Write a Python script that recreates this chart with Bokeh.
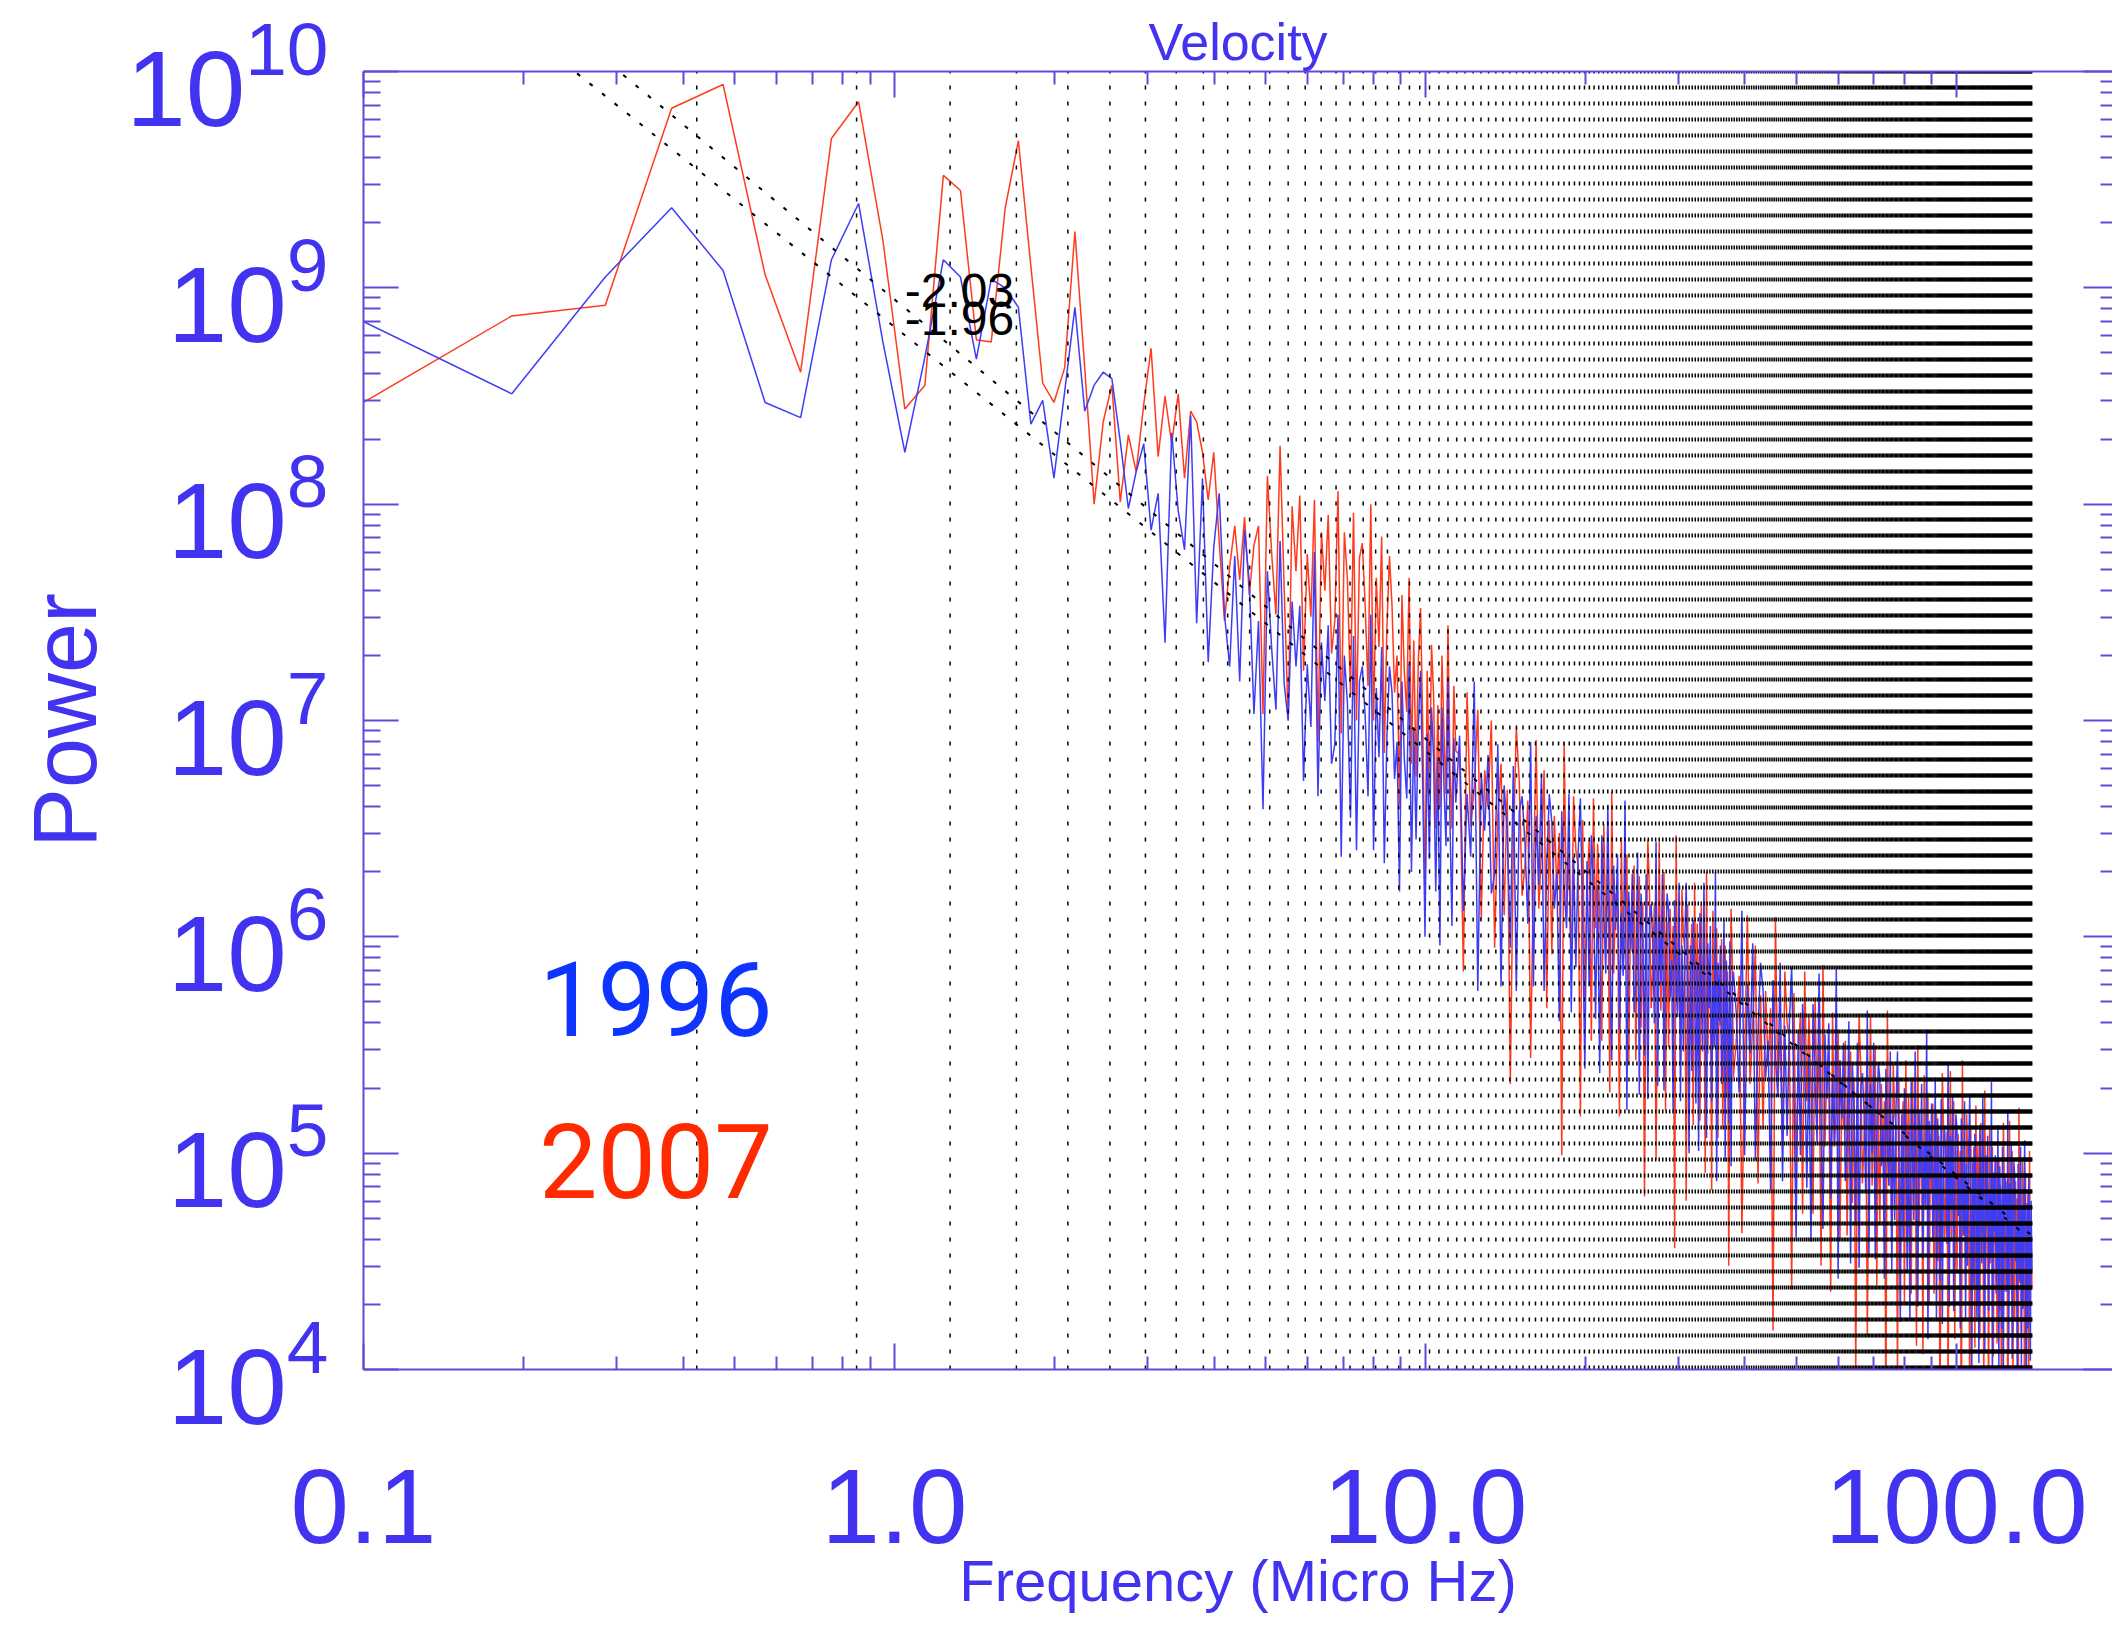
import math

from bokeh.plotting import figure
from bokeh.models import (Range1d, LogAxis, FixedTicker, Label, CustomJSTickFormatter,
                          LogTickFormatter)
from bokeh.embed import file_html
from bokeh.resources import INLINE

# ---------------------------------------------------------------------------
# Spectra of hourly solar-wind velocity, 1996 and 2007
# frequency resolution (micro-Hz) and the spectral bins that are kept
DF = 0.09513
bins_low = list(range(1, 121))
bins_mid = list(range(122, 401, 2))
bins_high = list(range(405, 1461, 5))

# log10(power) x 100, one value per kept bin
lp1996_low = [
    887, 851, 905, 937, 908, 847, 840, 913, 939, 875,
    824, 868, 913, 905, 867, 904, 900, 891, 837, 848,
    812, 852, 891, 843, 855, 861, 858, 829, 798, 815,
    828, 788, 805, 736, 833, 797, 779, 841, 745, 812,
    727, 780, 805, 749, 725, 776, 718, 788, 764, 703,
    746, 659, 769, 733, 705, 783, 717, 700, 755, 725,
    753, 672, 726, 697, 778, 665, 736, 709, 744, 680,
    689, 749, 637, 730, 708, 655, 739, 640, 718, 725,
    702, 665, 749, 640, 715, 683, 734, 634, 692, 725,
    713, 673, 690, 621, 718, 682, 664, 726, 630, 697,
    645, 698, 723, 667, 600, 694, 636, 706, 682, 621,
    683, 596, 706, 670, 642, 720, 654, 605, 692, 662,
]
lp1996_mid = [
    693, 612, 666, 637, 718, 575, 676, 649, 684, 620,
    629, 689, 577, 670, 648, 595, 679, 575, 658, 665,
    643, 606, 690, 577, 656, 624, 675, 575, 633, 666,
    653, 613, 630, 561, 658, 622, 604, 666, 565, 637,
    586, 639, 664, 608, 539, 635, 577, 647, 623, 562,
    624, 537, 647, 611, 583, 661, 595, 543, 633, 603,
    638, 557, 611, 582, 663, 520, 621, 594, 629, 565,
    579, 639, 527, 620, 598, 545, 629, 525, 608, 615,
    597, 560, 644, 531, 610, 578, 629, 529, 587, 620,
    612, 572, 589, 520, 617, 581, 563, 625, 524, 596,
    547, 600, 625, 569, 500, 596, 538, 608, 584, 523,
    588, 501, 611, 575, 547, 625, 559, 507, 597, 567,
    605, 524, 578, 549, 630, 487, 588, 561, 596, 532,
    548, 608, 496, 589, 567, 514, 598, 494, 577, 584,
]
lp1996_high = [
    565, 528, 612, 499, 578, 546, 597, 497, 555, 588,
    575, 535, 552, 483, 580, 544, 526, 588, 487, 559,
    508, 561, 586, 530, 461, 557, 499, 569, 545, 484,
    546, 459, 569, 533, 505, 583, 517, 465, 555, 525,
    560, 479, 533, 504, 585, 442, 543, 516, 551, 487,
    501, 561, 449, 542, 520, 467, 551, 447, 530, 537,
    519, 482, 566, 453, 532, 500, 551, 451, 509, 542,
    534, 494, 511, 442, 539, 503, 485, 547, 446, 518,
    469, 522, 547, 491, 422, 518, 460, 530, 506, 445,
    510, 423, 533, 497, 469, 547, 481, 429, 519, 489,
    532, 451, 505, 476, 557, 414, 515, 488, 523, 459,
    475, 535, 423, 516, 494, 441, 525, 421, 504, 511,
    495, 458, 542, 429, 508, 476, 527, 427, 485, 518,
    511, 471, 488, 419, 516, 480, 462, 524, 423, 495,
    448, 501, 526, 470, 401, 497, 439, 509, 485, 424,
    490, 403, 513, 477, 449, 527, 461, 409, 499, 469,
    508, 427, 481, 452, 533, 390, 491, 464, 499, 435,
    453, 513, 401, 494, 472, 419, 503, 399, 482, 489,
    473, 436, 520, 407, 486, 454, 505, 405, 463, 496,
    490, 450, 467, 398, 495, 459, 441, 503, 402, 474,
    428, 481, 506, 450, 381, 477, 419, 489, 465, 404,
    478, 446,
]

lp2007_low = [
    844, 887, 892, 983, 994, 906, 861, 969, 986, 922,
    844, 855, 952, 945, 876, 875, 937, 968, 910, 856,
    847, 863, 926, 863, 800, 838, 855, 801, 832, 815,
    846, 872, 822, 850, 828, 851, 812, 843, 838, 824,
    802, 824, 783, 746, 771, 790, 765, 794, 758, 781,
    790, 703, 813, 777, 749, 827, 761, 700, 799, 769,
    804, 723, 777, 748, 802, 690, 787, 760, 795, 731,
    746, 806, 694, 787, 765, 712, 796, 700, 775, 782,
    753, 716, 800, 700, 766, 734, 785, 685, 743, 776,
    753, 713, 730, 661, 758, 722, 704, 766, 680, 737,
    674, 727, 752, 696, 617, 723, 665, 735, 711, 650,
    707, 660, 730, 694, 666, 744, 678, 650, 716, 686,
]
lp2007_mid = [
    684, 584, 713, 651, 669, 705, 608, 677, 660, 700,
    595, 656, 680, 610, 668, 532, 641, 697, 672, 619,
    633, 663, 544, 625, 691, 613, 641, 677, 567, 654,
    592, 656, 621, 648, 499, 690, 609, 638, 584, 665,
    640, 633, 517, 654, 570, 623, 645, 552, 664, 604,
    643, 610, 552, 652, 601, 633, 528, 667, 583, 620,
    617, 517, 646, 584, 602, 638, 541, 610, 593, 633,
    543, 604, 628, 558, 616, 480, 589, 645, 620, 567,
    586, 616, 497, 578, 644, 566, 594, 630, 520, 607,
    549, 613, 578, 605, 456, 647, 566, 595, 541, 622,
    601, 594, 478, 615, 531, 584, 606, 513, 625, 565,
    606, 573, 515, 615, 564, 596, 491, 630, 546, 583,
    583, 483, 612, 550, 568, 604, 507, 576, 559, 599,
    511, 572, 596, 526, 584, 448, 557, 613, 588, 535,
]
lp2007_high = [
    552, 582, 463, 544, 610, 532, 560, 596, 486, 573,
    511, 575, 540, 567, 418, 609, 528, 557, 503, 584,
    560, 553, 437, 574, 490, 543, 565, 472, 584, 524,
    563, 530, 472, 572, 521, 553, 448, 587, 503, 540,
    536, 436, 565, 503, 521, 557, 460, 529, 512, 552,
    462, 523, 547, 477, 535, 399, 508, 564, 539, 486,
    505, 535, 416, 497, 563, 485, 513, 549, 439, 526,
    468, 532, 497, 524, 375, 566, 485, 514, 460, 541,
    519, 512, 396, 533, 449, 502, 524, 431, 543, 483,
    526, 493, 435, 535, 484, 516, 411, 550, 466, 503,
    507, 407, 536, 474, 492, 528, 431, 500, 483, 523,
    435, 496, 520, 450, 508, 372, 481, 537, 512, 459,
    480, 510, 391, 472, 538, 460, 488, 524, 414, 501,
    445, 509, 474, 501, 352, 543, 462, 491, 437, 518,
    498, 491, 375, 512, 428, 481, 503, 410, 522, 462,
    505, 472, 414, 514, 463, 495, 390, 529, 445, 482,
    482, 382, 511, 449, 467, 503, 406, 475, 458, 498,
    412, 473, 497, 427, 485, 349, 458, 514, 489, 436,
    457, 487, 368, 449, 515, 437, 465, 501, 391, 478,
    423, 487, 452, 479, 330, 521, 440, 469, 415, 496,
    477, 470, 354, 491, 407, 460, 482, 389, 501, 441,
    470, 438,
]

# synodic solar rotation frequency (27.27 d) and its harmonics
ROT_FREQ = 0.4244
rot_harmonics = list(range(1, 328))

# power-law fits: (slope, power at 1 micro-Hz)
fit_2007 = (-2.03, 8.85e8)
fit_1996 = (-1.96, 6.6e8)

# axes
X_START, X_END = 0.1, 197.0
Y_START, Y_END = 1e4, 1e10
x_ticks = [0.1, 1.0, 10.0, 100.0]
x_tick_labels = ["0.1", "1.0", "10.0", "100.0"]
y_exponents = [4, 5, 6, 7, 8, 9, 10]

AXIS_COLOR = "#6448d8"
TEXT_BLUE = "#4133f0"
RED = "#ff3b1e"
BLUE = "#3d3df6"
FONT = "Liberation Sans"

# ---------------------------------------------------------------------------
bins = bins_low + bins_mid + bins_high
freq = [b * DF for b in bins]
pow1996 = [10 ** (v / 100.0) for v in lp1996_low + lp1996_mid + lp1996_high]
pow2007 = [10 ** (v / 100.0) for v in lp2007_low + lp2007_mid + lp2007_high]
assert len(freq) == len(pow1996) == len(pow2007)

p = figure(
    width=2112, height=1632,
    x_axis_type="log", y_axis_type="log",
    x_range=Range1d(X_START, X_END), y_range=Range1d(Y_START, Y_END),
    output_backend="svg", toolbar_location=None,
    min_border_left=363, min_border_right=0,
    min_border_top=71, min_border_bottom=263,
    title="Velocity",
)
p.outline_line_color = None
p.grid.visible = False
p.background_fill_color = "white"
p.border_fill_color = "white"

p.title.align = "center"
p.title.text_font = FONT
p.title.text_font_style = "normal"
p.title.text_font_size = "52px"
p.title.text_color = TEXT_BLUE
p.title.standoff = 2

x_minor = [k * 10.0 ** d for d in range(-1, 3) for k in range(2, 10) if k * 10.0 ** d < X_END]
y_minor = [k * 10.0 ** d for d in range(4, 10) for k in range(2, 10)]


def x_ticker():
    return FixedTicker(ticks=x_ticks, minor_ticks=x_minor)


def y_ticker():
    return FixedTicker(ticks=[10.0 ** e for e in y_exponents], minor_ticks=y_minor)


def style_axis(ax, major_in, minor_in, line=True, labels=False):
    ax.axis_line_color = AXIS_COLOR if line else None
    ax.axis_line_width = 2
    for kind in ("major", "minor"):
        setattr(ax, kind + "_tick_line_color", AXIS_COLOR)
        setattr(ax, kind + "_tick_line_width", 2)
        setattr(ax, kind + "_tick_out", 0)
    ax.major_tick_in = major_in
    ax.minor_tick_in = minor_in
    if not labels:
        ax.formatter = CustomJSTickFormatter(code="return ''")
        ax.major_label_text_font_size = "1px"
        ax.major_label_standoff = 0
    else:
        ax.major_label_text_font = FONT
        ax.major_label_text_color = TEXT_BLUE
        ax.axis_label_text_font = FONT
        ax.axis_label_text_font_style = "normal"
        ax.axis_label_text_color = TEXT_BLUE


# bottom axis: frequency
xb = p.xaxis[0]
xb.ticker = x_ticker()
style_axis(xb, 26, 13, labels=True)
xb.major_label_overrides = dict(zip(x_ticks, x_tick_labels))
xb.major_label_text_font_size = "105px"
xb.major_label_standoff = 100
xb.axis_label = "Frequency (Micro Hz)"
xb.axis_label_text_font_size = "58px"
xb.axis_label_standoff = 2

# left axis: power
yl = p.yaxis[0]
yl.ticker = y_ticker()
style_axis(yl, 35, 17, labels=True)
yl.formatter = LogTickFormatter()
yl.major_label_text_font_size = "107px"
yl.major_label_standoff = 35
yl.axis_label = "Power"
yl.axis_label_text_font_size = "90px"
yl.axis_label_standoff = 8

top_axis = LogAxis(ticker=x_ticker())
style_axis(top_axis, 26, 13)
p.add_layout(top_axis, "above")

right_axis = LogAxis(ticker=y_ticker())
style_axis(right_axis, 29, 12, line=False)
p.add_layout(right_axis, "right")

# spectra
p.line(freq, pow2007, line_color=RED, line_width=1.5)
p.line(freq, pow1996, line_color=BLUE, line_width=1.5)

# rotation harmonics
harm = [h * ROT_FREQ for h in rot_harmonics]
p.segment(x0=harm, y0=[Y_START] * len(harm), x1=harm, y1=[Y_END] * len(harm),
          line_color="black", line_width=1.5, line_dash="4 12")


def text_label(x, y, text, size, color, font=FONT, align="left"):
    # anchor sits on the text's baseline
    return Label(x=x, y=y, text=text, text_align=align, text_baseline="middle",
                 y_offset=round(0.35 * size), text_font=font,
                 text_font_size=f"{size}px", text_color=color)


# power-law fits with their slopes
f_lo, f_hi = bins[0] * DF, bins[-1] * DF
f_lab = 11 * DF
for slope, amp in (fit_2007, fit_1996):
    p.line([f_lo, f_hi], [amp * f_lo ** slope, amp * f_hi ** slope],
           line_color="black", line_width=2, line_dash="4 12")
    p.add_layout(text_label(f_lab, amp * f_lab ** slope, f"{slope:.2f}", 48, "black"))

# year legend
p.add_layout(text_label(0.59, 3.5e5, "1996", 104, "#1034ff", font="Roboto", align="right"))
p.add_layout(text_label(0.59, 6.3e4, "2007", 104, "#ff2a00", font="Roboto", align="right"))

open("out.html", "w").write(file_html(p, INLINE))
